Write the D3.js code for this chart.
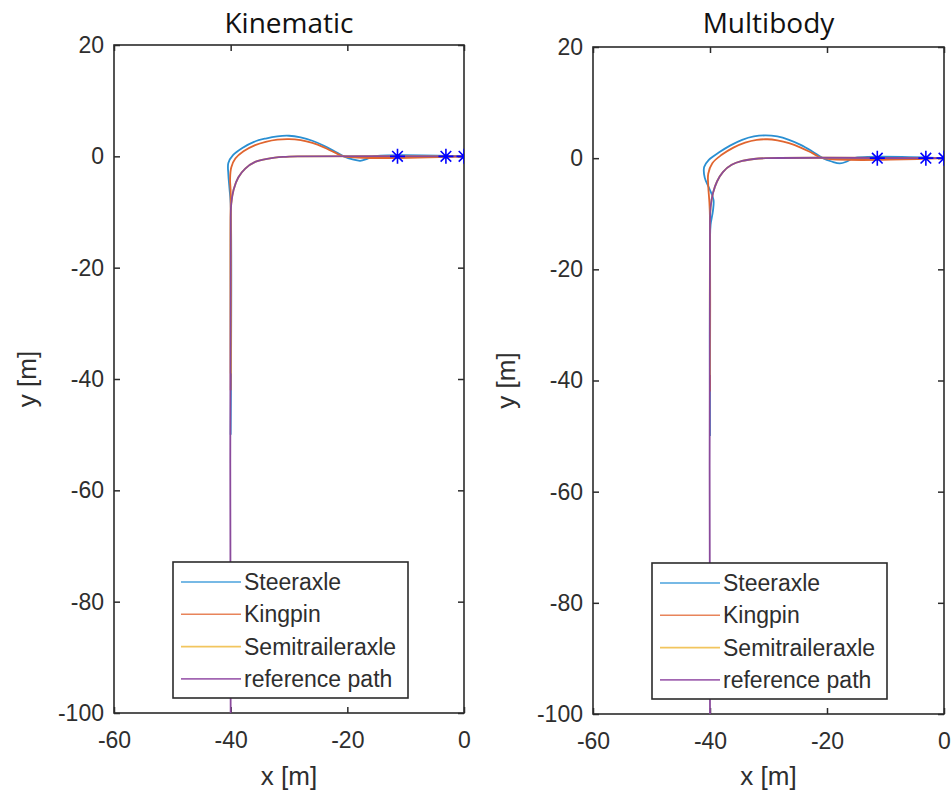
<!DOCTYPE html>
<html>
<head>
<meta charset="utf-8">
<script src="https://cdn.jsdelivr.net/npm/d3@7"></script>
<style>
  body { margin: 0; background: #fff; }
  svg text { font-family: "Liberation Sans", Arial, sans-serif; }
</style>
</head>
<body>
<div id="chart"></div>
<script>
  // axis ticks
  var xTicks = [-60, -40, -20, 0];
  var yTicks = [20, 0, -20, -40, -60, -80, -100];

  var seriesNames = ["Steeraxle", "Kingpin", "Semitraileraxle", "reference path"];
  var panelTitles = ["Kinematic", "Multibody"];

  // start positions (blue stars), x values, y = 0
  var startX = [-11.4, -3.1, 0];

  // Kinematic model paths [x, y]
  var kinSteer = [[0, 0], [-15.5, 0], [-16.6, -0.45], [-17.8, -0.8], [-19.1, -0.55], [-20.6, 0], [-22.2, 0.9],
    [-24, 1.9], [-26, 2.8], [-28, 3.4], [-30, 3.7], [-32, 3.6], [-34, 3.2], [-36, 2.6], [-38, 1.5],
    [-39.6, 0.2], [-40.4, -1.2], [-40.4, -3.2], [-40.2, -5.8], [-40, -8.5], [-40, -50]];
  var kinKingpin = [[0, 0], [-20.6, 0], [-22.2, 0.7], [-24, 1.6], [-26, 2.4], [-28, 2.9], [-30, 3.1],
    [-32, 3.0], [-34, 2.6], [-35.8, 2.0], [-37.8, 0.9], [-39.2, -0.4], [-39.9, -2], [-40.1, -4], [-40, -6.5], [-40, -42]];
  var kinSemi = [[0, 0], [-28.5, 0], [-31, -0.1], [-33.5, -0.4], [-35.8, -1.0], [-37.5, -2.2], [-38.7, -3.8],
    [-39.5, -6], [-39.9, -8.5], [-40, -11], [-40, -39]];
  var kinRef = [[0, 0], [-28.5, 0], [-31, -0.1], [-33.5, -0.4], [-35.8, -1.0], [-37.5, -2.2], [-38.7, -3.8],
    [-39.5, -6], [-39.9, -8.5], [-40, -11], [-40, -100]];

  // Multibody model paths [x, y]
  var mbSteer = [[0, 0], [-15.5, 0], [-16.6, -0.6], [-17.8, -0.95], [-19.2, -0.6], [-20.7, 0], [-22.5, 1.2],
    [-24.5, 2.4], [-26.5, 3.3], [-28.5, 3.9], [-30.5, 4.1], [-32.5, 3.9], [-34.5, 3.3], [-36.5, 2.3],
    [-38.5, 1.0], [-40.2, -0.3], [-41.0, -1.6], [-40.9, -3.5], [-40.1, -5.5], [-39.4, -7.5], [-39.5, -9.5],
    [-39.9, -12], [-40, -15], [-40, -50]];
  var mbKingpin = [[0, 0], [-20.7, 0], [-22.5, 0.9], [-24.5, 1.9], [-26.5, 2.7], [-28.5, 3.2], [-30.2, 3.4],
    [-32, 3.3], [-34, 2.8], [-36, 1.9], [-38, 0.6], [-39.6, -0.9], [-40.3, -2.8], [-40.3, -5], [-40.1, -8],
    [-40, -11], [-40, -42]];
  var mbSemi = [[0, 0], [-30.5, 0], [-32.5, -0.15], [-34.5, -0.5], [-36.3, -1.2], [-37.8, -2.5], [-38.8, -4.2],
    [-39.5, -6.3], [-39.9, -8.8], [-40, -11.5], [-40, -39]];
  var mbRef = [[0, 0], [-30.5, 0], [-32.5, -0.15], [-34.5, -0.5], [-36.3, -1.2], [-37.8, -2.5], [-38.8, -4.2],
    [-39.5, -6.3], [-39.9, -8.8], [-40, -11.5], [-40, -100]];

  var colors = ["#2a8fd2", "#e0652f", "#eeb42a", "#8a4a9c"];
  var legendColors = ["#4aa2dc", "#e8845a", "#f2c55e", "#a266b2"];

  var width = 951, height = 800;

  var svg = d3.select("#chart")
    .append("svg")
    .attr("width", width)
    .attr("height", height);

  var panels = [
    {title: panelTitles[0], left: 114, right: 464, top: 45, bottom: 713, series: [kinSteer, kinKingpin, kinSemi, kinRef]},
    {title: panelTitles[1], left: 593, right: 944, top: 47, bottom: 714, series: [mbSteer, mbKingpin, mbSemi, mbRef]}
  ];

  // plain hyphen like matlab, not the unicode minus
  var fmt = function (d) { return String(d); };

  panels.forEach(function (p, idx) {
    var x = d3.scaleLinear().domain([-60, 0]).range([p.left, p.right]);
    var y = d3.scaleLinear().domain([-100, 20]).range([p.bottom, p.top]);

    var g = svg.append("g").attr("class", "panel");

    g.append("clipPath")
      .attr("id", "clip" + idx)
      .append("rect")
      .attr("x", p.left)
      .attr("y", p.top)
      .attr("width", p.right - p.left)
      .attr("height", p.bottom - p.top);

    // axes (ticks inside, like matlab)
    var axisColor = "#2b2b2b";
    var xb = g.append("g")
      .attr("transform", "translate(0," + p.bottom + ")")
      .call(d3.axisBottom(x).tickValues(xTicks).tickSizeInner(-6).tickSizeOuter(0).tickPadding(19).tickFormat(fmt));
    var xt = g.append("g")
      .attr("transform", "translate(0," + p.top + ")")
      .call(d3.axisTop(x).tickValues(xTicks).tickSizeInner(-6).tickSizeOuter(0).tickFormat(""));
    var yl = g.append("g")
      .attr("transform", "translate(" + p.left + ",0)")
      .call(d3.axisLeft(y).tickValues(yTicks).tickSizeInner(-6).tickSizeOuter(0).tickPadding(10).tickFormat(fmt));
    var yr = g.append("g")
      .attr("transform", "translate(" + p.right + ",0)")
      .call(d3.axisRight(y).tickValues(yTicks).tickSizeInner(-6).tickSizeOuter(0).tickFormat(""));

    [xb, xt, yl, yr].forEach(function (a) {
      a.select(".domain").remove();
      a.selectAll(".tick line").attr("stroke", axisColor).attr("stroke-width", 1.5);
      a.selectAll(".tick text")
        .attr("fill", "#2e2e2e")
        .style("font-size", "23px")
        .style("font-family", "'Liberation Sans', Arial, sans-serif");
    });

    g.append("rect")
      .attr("x", p.left)
      .attr("y", p.top)
      .attr("width", p.right - p.left)
      .attr("height", p.bottom - p.top)
      .attr("fill", "none")
      .attr("stroke", axisColor)
      .attr("stroke-width", 1.6);

    // paths
    var line = d3.line()
      .x(function (d) { return x(d[0]); })
      .y(function (d) { return y(d[1]); })
      .curve(d3.curveCatmullRom.alpha(0.5));

    var plot = g.append("g").attr("clip-path", "url(#clip" + idx + ")");

    plot.selectAll("path.series")
      .data(p.series)
      .enter()
      .append("path")
      .attr("class", "series")
      .attr("d", line)
      .attr("fill", "none")
      .attr("stroke", function (d, i) { return colors[i]; })
      .attr("stroke-width", 1.8);

    // start markers '*'
    var star = plot.selectAll("g.star")
      .data(startX)
      .enter()
      .append("g")
      .attr("class", "star")
      .attr("transform", function (d) { return "translate(" + x(d) + "," + y(0) + ")"; });
    star.append("path")
      .attr("d", "M-7.5,0L7.5,0M0,-7.5L0,7.5M-5.3,-5.3L5.3,5.3M-5.3,5.3L5.3,-5.3")
      .attr("stroke", "#0000ff")
      .attr("stroke-width", 1.6);

    // title and labels
    g.append("text")
      .attr("x", (p.left + p.right) / 2)
      .attr("y", 33)
      .attr("text-anchor", "middle")
      .style("font-family", "'Open Sans', 'Noto Sans', sans-serif")
      .style("font-size", "28px")
      .style("font-weight", 500)
      .attr("fill", "#111")
      .text(p.title);

    g.append("text")
      .attr("x", (p.left + p.right) / 2)
      .attr("y", 785)
      .attr("text-anchor", "middle")
      .style("font-size", "26px")
      .attr("fill", "#2e2e2e")
      .text("x [m]");

    g.append("text")
      .attr("transform", "translate(" + (p.left - 78) + "," + ((p.top + p.bottom) / 2) + ") rotate(-90)")
      .attr("text-anchor", "middle")
      .style("font-size", "26px")
      .attr("fill", "#2e2e2e")
      .text("y [m]");

    // legend
    var lg = g.append("g")
      .attr("class", "legend")
      .attr("transform", "translate(" + (p.left + 59) + "," + (p.bottom - 151) + ")");

    lg.append("rect")
      .attr("x", 0)
      .attr("y", 0)
      .attr("width", 235)
      .attr("height", 136)
      .attr("fill", "#fff")
      .attr("stroke", axisColor)
      .attr("stroke-width", 1.6);

    var item = lg.selectAll("g.item")
      .data(seriesNames)
      .enter()
      .append("g")
      .attr("class", "item")
      .attr("transform", function (d, i) { return "translate(0," + (20 + i * 32.3) + ")"; });

    item.append("line")
      .attr("x1", 8)
      .attr("x2", 68)
      .attr("y1", 0)
      .attr("y2", 0)
      .attr("stroke", function (d, i) { return legendColors[i]; })
      .attr("stroke-width", 1.6);

    item.append("text")
      .attr("x", 71)
      .attr("dy", "0.35em")
      .style("font-size", "23px")
      .attr("fill", "#2e2e2e")
      .text(function (d) { return d; });
  });
</script>
</body>
</html>
